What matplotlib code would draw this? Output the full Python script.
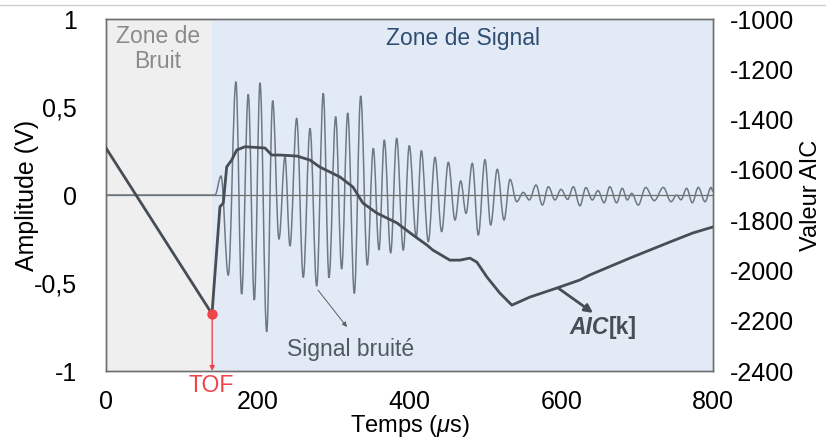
import matplotlib
matplotlib.use("Agg")
import matplotlib.pyplot as plt
from matplotlib.path import Path
from matplotlib.patches import PathPatch
from matplotlib.lines import Line2D

# ---------------- data ----------------
tof = 140
noise_zone = [0, 140]
signal_zone = [140, 800]

# extrema of the noisy signal (time in us, amplitude in V)
sig_t = [0, 143.7, 151.6, 161.2, 171.3, 178.8, 187.5, 195.5, 203.0, 211.8, 219.7,
         228.0, 235.9, 242.5, 251.3, 260.0, 268.9, 277.7, 286.4, 293.9, 302.7,
         310.6, 318.6, 327.3, 335.7, 344.4, 352.3, 359.8, 366.8, 375.2, 383.1,
         391.8, 399.7, 408.9, 415.6, 424.8, 433.6, 442.4, 451.2, 460.0, 467.5,
         474.5, 482.8, 490.7, 499.5, 507.0, 515.7, 524.6, 532.5, 541.3, 550.0,
         557.9, 566.8, 575.1, 583.0, 591.8, 599.7, 608.5, 615.9, 624.6, 632.5,
         640.9, 648.4, 656.5, 664.0, 673.0, 680.4, 687.0, 692.8, 701.5, 711.3,
         722.6, 734.5, 744.7, 752.1, 757.8, 765.3, 772.7, 780.6, 789.5, 797.4, 800]
sig_v = [0, 0, 0.108, -0.455, 0.644, -0.563, 0.572, -0.597, 0.638, -0.777, 0.536,
         -0.25, 0.218, -0.29, 0.436, -0.468, 0.379, -0.517, 0.578, -0.47, 0.445,
         -0.42, 0.466, -0.559, 0.5625, -0.398, 0.265, -0.3125, 0.3125, -0.328, 0.322,
         -0.3125, 0.28, -0.24, 0.252, -0.265, 0.214, -0.208, 0.186, -0.142, 0.08,
         -0.104, 0.18, -0.227, 0.201, -0.17, 0.146, -0.142, 0.089, -0.038, 0.015,
         -0.028, 0.057, -0.057, 0.047, -0.028, 0.032, -0.025, 0.047, -0.061, 0.042,
         -0.028, 0.025, -0.044, 0.047, -0.044, 0.038, -0.028, 0.0095, -0.057, 0.043,
         -0.032, 0.043, -0.038, 0.0, -0.027, 0.038, -0.044, 0.043, -0.038, 0.043, 0.02]

# AIC curve (time in us, AIC value)
aic_t = [0, 139.7, 150.2, 154.6, 159.1, 165.7, 172.3, 183.2, 209.6, 218.4, 229.3,
         251.6, 268.8, 282.0, 308.3, 325.4, 338.6, 357.0, 383.4, 404.5, 422.9,
         430.8, 453.2, 466.4, 479.6, 488.8, 502.0, 519.1, 534.9, 558.6, 594.2,
         624.5, 637.7, 690.4, 743.1, 773.4, 800]
aic_v = [-1513, -2173, -1747, -1732, -1588, -1561, -1521, -1508, -1513, -1541, -1541,
         -1545, -1561, -1589, -1628, -1668, -1732, -1772, -1811, -1859, -1899,
         -1919, -1959, -1959, -1951, -1967, -2026, -2090, -2138, -2106, -2070,
         -2038, -2018, -1951, -1887, -1851, -1827]
tof_aic = -2173

x_ticks = [0, 200, 400, 600, 800]
y_ticks = [-1, -0.5, 0, 0.5, 1]
y_ticklabels = ["-1", "-0,5", "0", "0,5", "1"]
aic_ticks = [-2400, -2200, -2000, -1800, -1600, -1400, -1200, -1000]

# ---------------- style ----------------
plt.rcParams['font.family'] = ['Liberation Sans', 'DejaVu Sans']
plt.rcParams['mathtext.fontset'] = 'custom'
plt.rcParams['mathtext.rm'] = 'Liberation Sans'
plt.rcParams['mathtext.it'] = 'Liberation Sans:italic'

SIG_COL = '#6c7985'
AIC_COL = '#474d54'
RED = '#f0434a'
FS = 18
AFS = 16.5

fig = plt.figure(figsize=(8.26, 4.43), dpi=100)
ax = fig.add_axes([0.1283, 0.1625, 0.7349, 0.7946])
ax2 = ax.twinx()

ax.set_xlim(0, 800)
ax.set_ylim(-1, 1)
ax2.set_ylim(-2400, -1000)

ax.axvspan(noise_zone[0], noise_zone[1], color='#efefef', lw=0, zorder=0)
ax.axvspan(signal_zone[0], signal_zone[1], color='#e2ebf5', lw=0, zorder=0)
ax.axhline(0, color='#6e6e6e', lw=0.9, zorder=1)

# signal drawn as smooth curve through extrema
verts = [(sig_t[0], sig_v[0])]
codes = [Path.MOVETO]
k = 0.36
for i in range(1, len(sig_t)):
    t0, v0 = sig_t[i - 1], sig_v[i - 1]
    t1, v1 = sig_t[i], sig_v[i]
    dt = t1 - t0
    verts += [(t0 + k * dt, v0), (t1 - k * dt, v1), (t1, v1)]
    codes += [Path.CURVE4] * 3
ax.add_patch(PathPatch(Path(verts, codes), fill=False, edgecolor=SIG_COL,
                       lw=1.1, zorder=2))

# AIC curve
ax2.plot(aic_t, aic_v, color=AIC_COL, lw=2.0, zorder=3, solid_joinstyle='round')
ax2.annotate('', xy=(tof, -2400), xytext=(tof, tof_aic),
             arrowprops=dict(arrowstyle='-|>', color=RED, lw=1.0,
                             mutation_scale=7, shrinkA=0, shrinkB=0), zorder=4)
ax2.plot([tof], [tof_aic], 'o', color=RED, ms=6.5, zorder=5)

# ticks
ax.set_xticks(x_ticks)
ax.set_xticklabels([str(v) for v in x_ticks])
ax.set_yticks(y_ticks)
ax.set_yticklabels(y_ticklabels)
ax2.set_yticks(aic_ticks)
ax2.set_yticklabels([str(v) for v in aic_ticks])
ax.tick_params(axis='both', length=0, labelsize=FS, pad=14)
ax.tick_params(axis='y', pad=21)
ax2.tick_params(axis='y', length=0, labelsize=FS, pad=12)

for a in (ax, ax2):
    for s in a.spines.values():
        s.set_color('#6f6f6f')
        s.set_linewidth(1.0)

ax.set_xlabel(r'Temps ($\mu$s)', fontsize=17)
ax.set_ylabel('Amplitude (V)', fontsize=FS)
ax2.set_ylabel('Valeur AIC', fontsize=17)
ax.xaxis.set_label_coords(0.5, -0.118)
ax.yaxis.set_label_coords(-0.11, 0.5)
ax2.yaxis.set_label_coords(1.143, 0.5)

# annotations
ax.text(68, 0.83, 'Zone de\nBruit', ha='center', va='center', fontsize=AFS,
        color='#8a8a8a', linespacing=1.1)
ax.text(470, 0.89, 'Zone de Signal', ha='center', va='center', fontsize=AFS,
        color='#2f4d73')
ax.text(322, -0.875, 'Signal bruité', ha='center', va='center', fontsize=AFS,
        color='#4f5962')
ax.annotate('', xy=(317.6, -0.75), xytext=(279.4, -0.54),
            arrowprops=dict(arrowstyle='-|>', color='#5a6066', lw=0.7,
                            mutation_scale=7, shrinkA=0, shrinkB=0))
ax.text(663, -0.755, 'AIC', ha='right', va='center', fontsize=AFS,
        color=AIC_COL, fontweight='bold', fontstyle='italic')
ax.text(663, -0.755, '[k]', ha='left', va='center', fontsize=AFS,
        color=AIC_COL, fontweight='bold')
ax.annotate('', xy=(641.9, -0.67), xytext=(595.7, -0.528),
            arrowprops=dict(arrowstyle='-|>', color=AIC_COL, lw=2.0,
                            mutation_scale=12, shrinkA=0, shrinkB=0))
ax.text(139, -1.085, 'TOF', ha='center', va='center', fontsize=AFS,
        color=RED, clip_on=False)

fig.add_artist(Line2D([0, 1], [1 - 5 / 443, 1 - 5 / 443], color='#d0d0d0', lw=1.0))

fig.savefig('out.png', dpi=100)
